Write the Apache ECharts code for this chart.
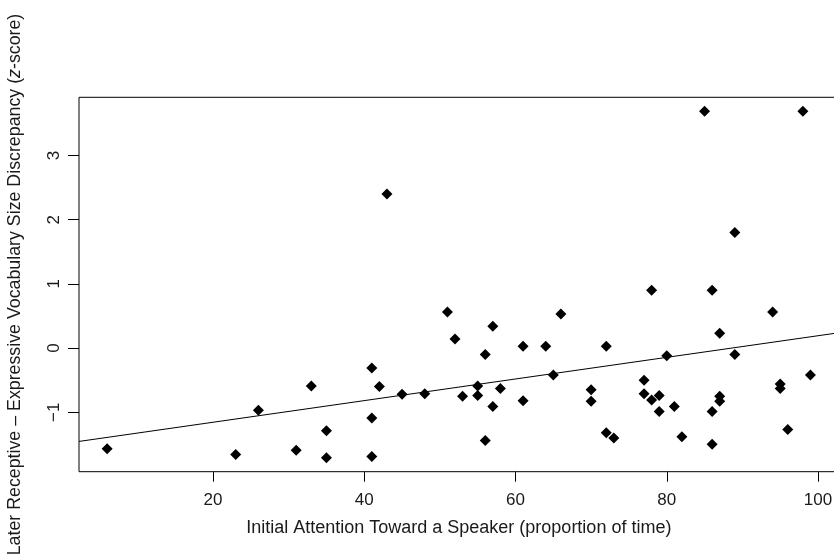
<!DOCTYPE html>
<html>
<head>
<meta charset="utf-8">
<script src="https://cdn.jsdelivr.net/npm/echarts@6/dist/echarts.min.js"></script>
<style>html,body{margin:0;padding:0;background:#fff}#c{width:834px;height:556px}</style>
</head>
<body>
<div id="c"></div>
<script>
// Initial attention toward a speaker (proportion of time)
var attention = [6,23,26,31,33,35,35,41,41,41,42,43,45,48,51,52,53,55,55,56,56,57,57,58,61,61,64,65,66,70,70,72,72,73,77,77,78,78,79,79,80,81,82,85,86,86,86,87,87,87,89,89,94,95,95,96,98,99];
// Later receptive - expressive vocabulary size discrepancy (z-score)
var discrepancy = [-1.57,-1.66,-0.97,-1.59,-0.59,-1.29,-1.71,-0.31,-1.09,-1.69,-0.60,2.40,-0.72,-0.71,0.56,0.14,-0.75,-0.59,-0.74,-0.10,-1.44,0.34,-0.91,-0.63,0.03,-0.82,0.03,-0.42,0.53,-0.65,-0.83,0.03,-1.32,-1.40,-0.50,-0.71,0.90,-0.81,-0.74,-0.99,-0.12,-0.91,-1.38,3.69,0.90,-0.99,-1.50,0.23,-0.75,-0.83,1.80,-0.10,0.56,-0.56,-0.63,-1.27,3.69,-0.42];
var xTicks = [20,40,60,80,100];
var yTicks = [-1,0,1,2,3];
// fitted regression line
var fitIntercept = -1.493;
var fitSlope = 0.01685;

function rRange(arr){
  var lo = Math.min.apply(null, arr), hi = Math.max.apply(null, arr);
  var e = (hi - lo) * 0.04;
  return [lo - e, hi + e];
}
var xr = rRange(attention), yr = rRange(discrepancy);
var pts = attention.map(function(x,i){ return [x, discrepancy[i]]; });
var fit = [[xr[0], fitIntercept + fitSlope*xr[0]], [xr[1], fitIntercept + fitSlope*xr[1]]];

var FONT = 'Liberation Sans, Arial, Helvetica, sans-serif';
var TXT = '#1a1a1a';
var chart = echarts.init(document.getElementById('c'), null, {renderer:'canvas'});
chart.setOption({
  animation:false,
  backgroundColor:'#fff',
  grid:{left:79, top:97.3, right:-4.6, bottom:84.3, show:true, borderColor:'#000', borderWidth:1, backgroundColor:'transparent',
        containLabel:false, outerBoundsMode:'none'},
  xAxis:{
    type:'value', min:xr[0], max:xr[1],
    axisLine:{show:false, onZero:false},
    splitLine:{show:false},
    axisTick:{show:true, length:10, inside:false, customValues:xTicks, lineStyle:{color:'#000', width:1}},
    axisLabel:{show:true, customValues:xTicks, margin:20, fontFamily:FONT, fontSize:17, color:TXT},
    name:'Initial Attention Toward a Speaker (proportion of time)',
    nameLocation:'middle', nameGap:47,
    nameTextStyle:{fontFamily:FONT, fontSize:18, color:TXT}
  },
  yAxis:{
    type:'value', min:yr[0], max:yr[1],
    axisLine:{show:false, onZero:false},
    splitLine:{show:false},
    axisTick:{show:true, length:11, inside:false, customValues:yTicks, lineStyle:{color:'#000', width:1}},
    axisLabel:{show:true, customValues:yTicks, rotate:90, margin:16, fontFamily:FONT, fontSize:17, color:TXT,
      formatter:function(v){ return String(v).replace('-', '\u2212'); }},
    name:'Later Receptive \u2013 Expressive Vocabulary Size Discrepancy ({i|z}-score)',
    nameLocation:'middle', nameGap:55,
    nameTextStyle:{fontFamily:FONT, fontSize:17.8, color:TXT, rich:{i:{fontStyle:'italic', fontFamily:FONT, fontSize:17.8, color:TXT}}}
  },
  series:[
    {type:'line', data:fit, showSymbol:false, symbol:'none', clip:true, lineStyle:{color:'#000', width:1}, silent:true, z:1},
    {type:'scatter', data:pts, symbol:'diamond', symbolSize:[11,11], itemStyle:{color:'#000', opacity:1}, z:2}
  ]
});
</script>
</body>
</html>
